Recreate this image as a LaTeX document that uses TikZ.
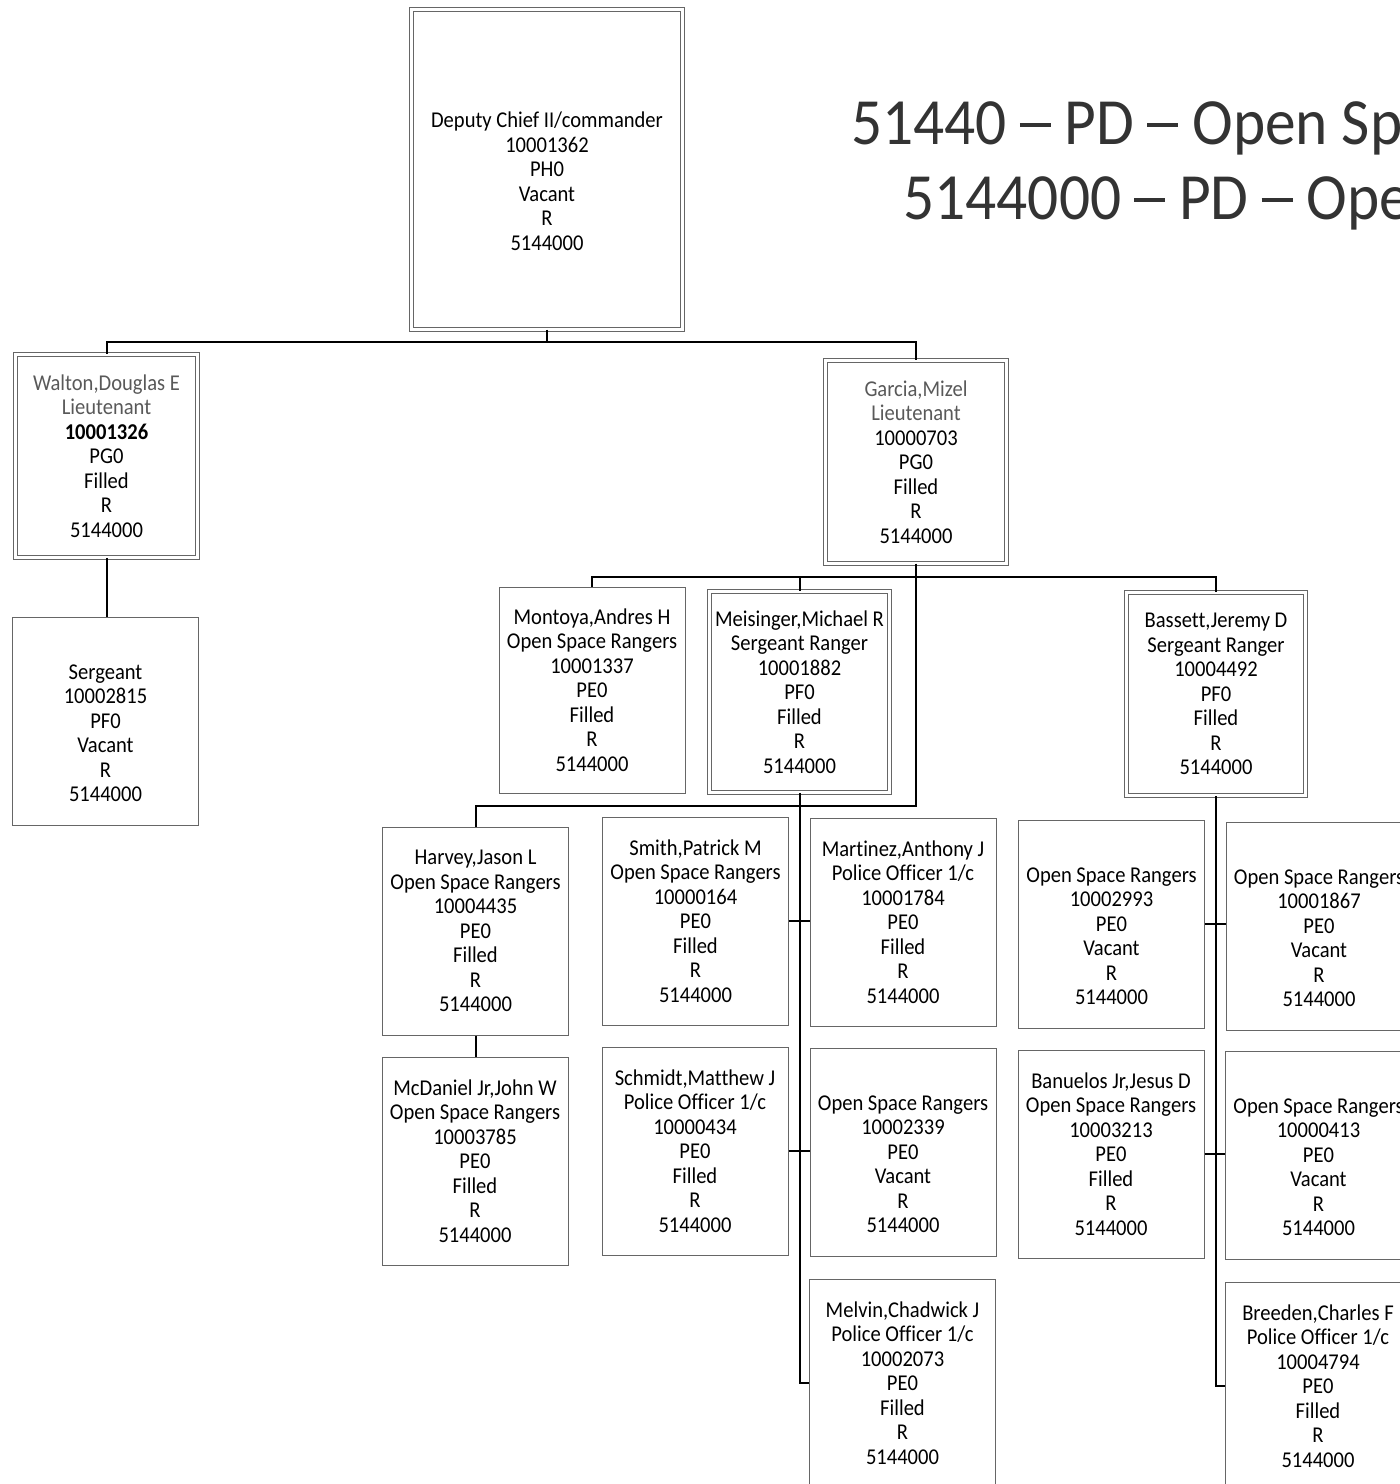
\documentclass[tikz,border=0pt]{standalone}
\usepackage{fontspec}
\setmainfont{Carlito}[FakeStretch=0.91,Ligatures=NoCommon]
\newfontfamily\titlefont{Carlito}[FakeStretch=0.93,Ligatures=NoCommon]
\definecolor{namegray}{gray}{0.35}
\definecolor{boxgray}{gray}{0.4}
\definecolor{titlegray}{gray}{0.2}
\newcommand{\tdash}{\hspace{6.5pt}\rule[8.6pt]{15.5pt}{2pt}\hspace{7pt}}
\begin{document}
\begin{tikzpicture}[x=0.5pt,y=-0.5pt,
  box/.style={draw=boxgray, line width=0.5pt, rectangle, align=center, inner sep=0pt,
    minimum width=93pt, minimum height=104pt, font=\fontsize{11.3}{12.25}\selectfont, text=black},
  dbl/.style={double=white, double distance=1.6pt, line width=0.45pt},
  link/.style={draw=black, line width=1pt},
  title/.style={anchor=base west, inner sep=0pt, text=titlegray, font=\titlefont\fontsize{33}{40}\selectfont}]
\useasboundingbox (0,0) rectangle (1400,1484);
\clip (0,0) rectangle (1400,1484);

% title
\node[title] (t1) at (851,144) {51440\tdash PD\tdash Open Sp};
\node[title] (t2) at (903,219) {5144000\tdash PD\tdash Ope};

% boxes
\node[box, dbl, minimum width=135.5pt, minimum height=160pt] (top) at (547,169.5)
  {\vphantom{R}\\Deputy Chief II/commander\\10001362\\PH0\\Vacant\\R\\5144000};
\node[box, dbl, minimum width=91pt, minimum height=101.5pt] (walton) at (106.5,456)
  {\textcolor{namegray}{Walton,Douglas E}\\\textcolor{namegray}{Lieutenant}\\\textbf{10001326}\\PG0\\Filled\\R\\5144000};
\node[box] (sgt) at (105.5,721)
  {\vphantom{R}\\Sergeant\\10002815\\PF0\\Vacant\\R\\5144000};
\node[box, dbl, minimum width=90.5pt, minimum height=101.5pt] (garcia) at (916,462)
  {\textcolor{namegray}{Garcia,Mizel}\\\textcolor{namegray}{Lieutenant}\\10000703\\PG0\\Filled\\R\\5144000};
\node[box, minimum height=103pt] (montoya) at (592,690)
  {Montoya,Andres H\\Open Space Rangers\\10001337\\PE0\\Filled\\R\\5144000};
\node[box, dbl, minimum width=90pt, minimum height=100.5pt] (meisinger) at (799.5,692)
  {Meisinger,Michael R\\Sergeant Ranger\\10001882\\PF0\\Filled\\R\\5144000};
\node[box, dbl, minimum width=89.5pt, minimum height=101.5pt] (bassett) at (1216,694)
  {Bassett,Jeremy D\\Sergeant Ranger\\10004492\\PF0\\Filled\\R\\5144000};
\node[box] (harvey) at (475.5,931)
  {Harvey,Jason L\\Open Space Rangers\\10004435\\PE0\\Filled\\R\\5144000};
\node[box] (mcdaniel) at (475,1161)
  {McDaniel Jr,John W\\Open Space Rangers\\10003785\\PE0\\Filled\\R\\5144000};
\node[box] (smith) at (695.5,921)
  {Smith,Patrick M\\Open Space Rangers\\10000164\\PE0\\Filled\\R\\5144000};
\node[box] (schmidt) at (695,1151)
  {Schmidt,Matthew J\\Police Officer 1/c\\10000434\\PE0\\Filled\\R\\5144000};
\node[box] (martinez) at (903,922)
  {Martinez,Anthony J\\Police Officer 1/c\\10001784\\PE0\\Filled\\R\\5144000};
\node[box] (os2339) at (903,1152)
  {\vphantom{R}\\Open Space Rangers\\10002339\\PE0\\Vacant\\R\\5144000};
\node[box] (melvin) at (902.5,1383)
  {Melvin,Chadwick J\\Police Officer 1/c\\10002073\\PE0\\Filled\\R\\5144000};
\node[box] (os2993) at (1111.5,924)
  {\vphantom{R}\\Open Space Rangers\\10002993\\PE0\\Vacant\\R\\5144000};
\node[box] (os1867) at (1319,926)
  {\vphantom{R}\\Open Space Rangers\\10001867\\PE0\\Vacant\\R\\5144000};
\node[box] (banuelos) at (1111,1154)
  {Banuelos Jr,Jesus D\\Open Space Rangers\\10003213\\PE0\\Filled\\R\\5144000};
\node[box] (os0413) at (1318.5,1155)
  {\vphantom{R}\\Open Space Rangers\\10000413\\PE0\\Vacant\\R\\5144000};
\node[box] (breeden) at (1318,1386)
  {Breeden,Charles F\\Police Officer 1/c\\10004794\\PE0\\Filled\\R\\5144000};

% connectors
\draw[link] (top.south) -- ++(0,12) -| (walton.north);
\draw[link] (top.south) -- ++(0,12) -| (garcia.north);
\draw[link] (walton.south) -- (walton.south |- sgt.north);
\draw[link] (garcia.south) -- ++(0,13) -| (montoya.north);
\draw[link] (garcia.south) -- ++(0,13) -| (meisinger.north);
\draw[link] (garcia.south) -- ++(0,13) -| (bassett.north);
\coordinate (gbend) at (916,806);
\draw[link] (garcia.south) -- (gbend) -| (harvey.north);
\draw[link] (harvey.south) -- (harvey.south |- mcdaniel.north);
\draw[link] (meisinger.south) -- (meisinger.south |- melvin.west) -- (melvin.west);
\draw[link] (smith.east) -- (smith.east -| martinez.west);
\draw[link] (schmidt.east) -- (schmidt.east -| os2339.west);
\draw[link] (bassett.south) -- (bassett.south |- breeden.west) -- (breeden.west);
\draw[link] (os2993.east) -- (os2993.east -| os1867.west);
\draw[link] (banuelos.east) -- (banuelos.east -| os0413.west);
\end{tikzpicture}
\end{document}
